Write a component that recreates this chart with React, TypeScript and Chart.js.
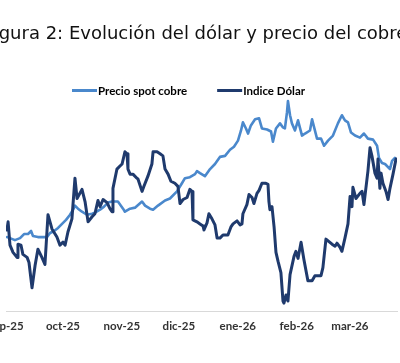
import React, { useEffect, useRef } from 'react';
import { Chart, registerables } from 'chart.js';

Chart.register(...registerables);

const TITLE = 'Figura 2: Evolución del dólar y precio del cobre';
const SERIES_NAMES = ['Precio spot cobre', 'Indice Dólar'];
const MONTH_LABELS = ['sep-25', 'oct-25', 'nov-25', 'dic-25', 'ene-26', 'feb-26', 'mar-26'];
// days since 1-sep-2025
const MONTH_STARTS = [0, 30, 61, 91, 122, 153, 181];

const COPPER_DAYS = [
  0.5, 2.1, 4.7, 7.4, 9.5, 11.6, 13.2, 14.2, 16.8, 19.5, 21.6, 23.2, 25.3, 27.4, 29.5, 31.6, 33.7,
  35.3, 36.3, 37.9, 40.0, 42.6, 45.3, 46.8, 49.5, 51.6, 53.7, 55.8, 58.9, 61.6, 62.6, 65.3, 67.9,
  71.6, 73.2, 75.8, 77.4, 80.0, 83.7, 86.3, 90.0, 92.6, 94.2, 96.8, 99.5, 100.5, 102.1, 104.7,
  107.4, 110.0, 112.6, 115.3, 117.9, 120.0, 122.1, 123.7, 124.7, 126.3, 127.4, 128.9, 131.1,
  133.2, 134.7, 137.4, 139.5, 140.5, 142.1, 144.2, 145.8, 146.8, 147.9, 148.4, 149.5, 150.5,
  152.1, 153.7, 155.8, 157.4, 160.0, 161.1, 163.7, 165.8, 167.4, 169.5, 172.1, 174.7, 176.8,
  178.4, 180.0, 181.6, 183.7, 186.3, 188.4, 190.5, 193.2, 195.3, 196.3, 197.9, 199.5, 202.1,
  203.2, 204.7,
];
// US$/lb
const COPPER_VALUES = [
  4.73, 4.72, 4.70, 4.72, 4.76, 4.76, 4.79, 4.74, 4.73, 4.73, 4.73, 4.77, 4.79, 4.82, 4.86, 4.90,
  4.95, 5.00, 5.04, 5.01, 4.98, 4.95, 4.96, 4.97, 5.00, 5.03, 5.07, 5.08, 5.08, 5.01, 4.98, 5.01,
  5.02, 5.08, 5.04, 5.01, 5.00, 5.04, 5.09, 5.11, 5.18, 5.26, 5.31, 5.32, 5.35, 5.38, 5.36, 5.33,
  5.40, 5.45, 5.52, 5.53, 5.59, 5.62, 5.68, 5.78, 5.86, 5.80, 5.75, 5.83, 5.89, 5.90, 5.80, 5.79,
  5.77, 5.67, 5.80, 5.85, 5.81, 5.80, 5.96, 6.07, 5.93, 5.85, 5.78, 5.88, 5.73, 5.75, 5.78, 5.89,
  5.70, 5.70, 5.63, 5.68, 5.73, 5.85, 5.93, 5.88, 5.86, 5.76, 5.73, 5.71, 5.75, 5.70, 5.69, 5.63,
  5.51, 5.46, 5.45, 5.40, 5.48, 5.51,
];

const DOLLAR_DAYS = [
  0.5, 1.1, 2.1, 3.7, 5.8, 6.3, 7.9, 8.9, 11.1, 12.1, 13.7, 15.3, 16.8, 18.9, 20.5, 22.1, 24.2,
  26.8, 28.4, 30.0, 31.1, 32.6, 34.7, 36.3, 37.4, 40.0, 41.6, 43.2, 45.3, 46.8, 48.4, 49.5, 51.1,
  53.2, 54.7, 55.8, 56.3, 58.4, 60.0, 61.1, 62.6, 63.7, 64.2, 65.3, 66.8, 68.9, 69.5, 71.6, 72.6,
  74.7, 76.8, 77.4, 79.5, 81.1, 82.6, 83.7, 85.3, 86.8, 88.9, 90.5, 91.6, 93.2, 95.3, 96.8, 97.9,
  98.4, 100.5, 102.1, 103.7, 104.2, 105.8, 106.8, 108.4, 110.0, 111.1, 112.6, 114.2, 116.8,
  118.4, 119.5, 121.6, 123.2, 124.2, 124.7, 126.8, 127.9, 129.5, 130.5, 132.1, 133.2, 134.7,
  136.8, 137.9, 138.4, 138.9, 140.0, 141.1, 142.1, 143.2, 144.7, 145.8, 146.3, 147.4, 148.4,
  149.5, 151.6, 152.6, 153.7, 155.3, 156.8, 158.9, 161.1, 162.6, 165.8, 166.8, 168.4, 171.6,
  173.2, 174.2, 175.8, 176.8, 178.4, 180.0, 181.1, 182.1, 182.6, 184.2, 186.3, 187.4, 188.4,
  190.5, 191.6, 192.6, 194.2, 195.3, 195.8, 196.8, 197.4, 198.4, 200.0, 201.1, 202.1, 203.7,
  205.3,
];
const DOLLAR_VALUES = [
  97.40, 97.64, 96.95, 96.74, 96.59, 96.98, 96.95, 96.68, 96.59, 96.44, 95.69, 96.35, 96.83,
  96.59, 96.38, 97.85, 97.43, 97.19, 96.95, 97.04, 96.95, 97.34, 97.73, 98.93, 98.33, 98.60,
  98.24, 97.64, 97.79, 97.88, 98.27, 98.09, 98.30, 98.21, 98.03, 97.94, 98.63, 99.20, 99.29,
  99.35, 99.71, 99.65, 99.20, 99.05, 99.05, 98.93, 98.90, 98.54, 98.69, 98.99, 99.35, 99.71,
  99.71, 99.65, 99.59, 99.20, 99.05, 98.84, 98.78, 98.69, 98.18, 98.30, 98.36, 98.60, 98.54,
  97.70, 97.64, 97.58, 97.52, 97.40, 97.61, 97.88, 97.73, 97.55, 97.16, 97.16, 97.25, 97.25,
  97.49, 97.58, 97.67, 97.55, 97.58, 97.88, 98.15, 98.45, 98.36, 98.18, 98.48, 98.57, 98.78,
  98.78, 98.75, 98.24, 98.00, 98.09, 97.49, 96.74, 96.47, 96.14, 95.30, 95.24, 95.48, 95.30,
  96.08, 96.62, 96.77, 96.56, 97.04, 96.53, 95.90, 95.90, 96.05, 96.05, 96.29, 97.13, 96.98,
  96.92, 97.01, 96.89, 96.77, 97.16, 97.58, 98.39, 98.09, 98.66, 98.33, 98.48, 98.54, 98.15,
  99.14, 99.83, 99.59, 99.08, 98.93, 99.50, 98.63, 99.08, 98.78, 98.54, 98.30, 98.63, 99.05,
  99.50,
];

const COLOR_COPPER = '#4A88CC';
const COLOR_DOLLAR = '#1F3A6D';

const CANVAS_W = 472;
const CANVAS_H = 363;
const SHIFT_X = 40;

const headerPlugin = {
  id: 'header',
  afterDraw(chart: any) {
    const ctx = chart.ctx as CanvasRenderingContext2D;
    ctx.save();
    ctx.font = '18px "DejaVu Sans"';
    ctx.fillStyle = '#111';
    ctx.textAlign = 'center';
    ctx.textBaseline = 'alphabetic';
    ctx.fillText(TITLE, 236, 39);

    ctx.font = 'bold 11.5px Lato';
    ctx.textAlign = 'left';
    let x = 112;
    const order = [0, 1];
    order.forEach((i) => {
      const ds = chart.data.datasets[i];
      ctx.strokeStyle = ds.borderColor;
      ctx.lineWidth = 3;
      ctx.beginPath();
      ctx.moveTo(x, 90.5);
      ctx.lineTo(x + 25, 90.5);
      ctx.stroke();
      ctx.fillStyle = '#000';
      ctx.fillText(ds.label, x + 26, 94.5);
      x += 26 + ctx.measureText(ds.label).width + 30;
    });
    ctx.restore();
  },
};

export default function App() {
  const ref = useRef<HTMLCanvasElement | null>(null);

  useEffect(() => {
    if (!ref.current) return;
    const copperData = COPPER_DAYS.map((d, i) => ({ x: d, y: COPPER_VALUES[i] }));
    const dollarData = DOLLAR_DAYS.map((d, i) => ({ x: d, y: DOLLAR_VALUES[i] }));
    const chart = new Chart(ref.current, {
      type: 'line',
      data: {
        datasets: [
          {
            label: SERIES_NAMES[0],
            data: copperData,
            borderColor: COLOR_COPPER,
            backgroundColor: COLOR_COPPER,
            borderWidth: 2.6,
            yAxisID: 'yC',
            order: 1,
          },
          {
            label: SERIES_NAMES[1],
            data: dollarData,
            borderColor: COLOR_DOLLAR,
            backgroundColor: COLOR_DOLLAR,
            borderWidth: 3,
            yAxisID: 'yD',
            order: 0,
          },
        ],
      },
      options: {
        responsive: false,
        animation: false,
        layout: { padding: { top: 98, left: 46, right: 35, bottom: 22 } },
        elements: {
          point: { radius: 0, hoverRadius: 0 },
          line: { tension: 0, borderJoinStyle: 'round', borderCapStyle: 'round' },
        },
        plugins: {
          legend: { display: false },
          title: { display: false },
          tooltip: { enabled: false },
        },
        scales: {
          x: {
            type: 'linear',
            min: 0,
            max: 205.8,
            grid: { display: false, drawTicks: false },
            border: { display: true, color: '#D9D9D9', width: 1 },
            afterBuildTicks: (scale: any) => {
              scale.ticks = MONTH_STARTS.map((v) => ({ value: v }));
            },
            ticks: {
              autoSkip: false,
              maxRotation: 0,
              padding: 8,
              color: '#333',
              font: { family: 'Lato', weight: 'bold', size: 11.5 },
              callback: (v: any) => {
                const i = MONTH_STARTS.indexOf(Number(v));
                return i >= 0 ? MONTH_LABELS[i] : '';
              },
            },
          },
          yC: { type: 'linear', position: 'left', display: false, min: 4.0, max: 6.1 },
          yD: { type: 'linear', position: 'right', display: false, min: 95, max: 101.3 },
        },
      } as any,
      plugins: [headerPlugin],
    });
    return () => chart.destroy();
  }, []);

  return (
    <div
      style={{
        position: 'absolute',
        left: 0,
        top: 0,
        width: 400,
        height: 363,
        overflow: 'hidden',
        background: '#fff',
      }}
    >
      <div style={{ position: 'absolute', left: -SHIFT_X, top: 0, width: CANVAS_W, height: CANVAS_H }}>
        <canvas ref={ref} width={CANVAS_W} height={CANVAS_H} style={{ width: CANVAS_W, height: CANVAS_H }} />
      </div>
    </div>
  );
}
